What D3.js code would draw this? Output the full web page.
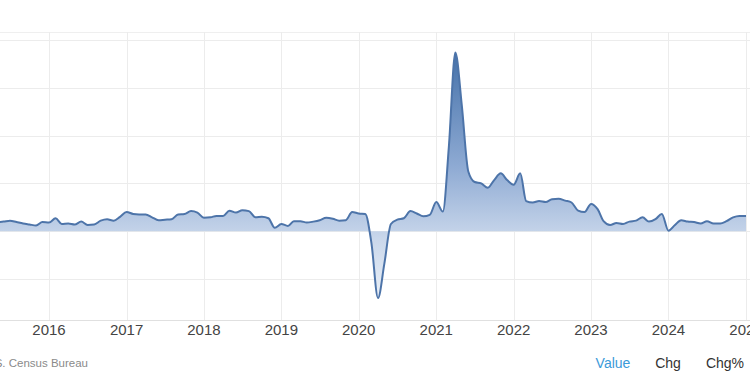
<!DOCTYPE html>
<html>
<head>
<meta charset="utf-8">
<script src="https://cdn.jsdelivr.net/npm/d3@7"></script>
<style>
  body { margin: 0; background: #fff; }
  svg { display: block; font-family: "Liberation Sans", Arial, sans-serif; }
</style>
</head>
<body>
<svg id="viz" width="750" height="375"></svg>
<script>
// monthly values, May 2015 .. Jan 2025 (one grid step = 10)
var firstMonth = new Date(2015, 4, 1);
var values = [
    1.9, 2.0, 2.2, 1.9, 1.6, 1.4, 1.2, 1.9,
    1.8, 2.7, 1.5, 1.6, 1.4, 2.0, 1.3, 1.4, 2.2, 2.5, 2.2, 3.0,
    4.0, 3.6, 3.5, 3.5, 2.9, 2.3, 2.4, 2.5, 3.5, 3.6, 4.2, 3.9,
    2.8, 2.9, 3.2, 3.2, 4.3, 3.9, 4.4, 4.2, 2.9, 3.0, 2.7, 0.7,
    1.5, 1.1, 2.1, 2.1, 1.8, 2.0, 2.3, 2.8, 2.6, 2.2, 2.3, 4.0,
    3.7, 3.6, -2.5, -14.0, -6.8, 1.5, 2.4, 2.7, 4.2, 3.7, 3.1, 3.4,
    6.1, 4.1, 17.5, 37.4, 26.5, 12.5, 10.3, 10.0, 9.1, 10.7, 12.1, 10.7,
    9.7, 12.1, 6.3, 6.0, 6.3, 6.1, 6.7, 6.8, 6.4, 6.0, 4.3, 4.0,
    5.7, 4.6, 2.1, 1.3, 1.7, 1.5, 2.0, 2.2, 2.9, 2.0, 2.5, 3.6,
    0.1, 1.3, 2.3, 2.0, 1.9, 1.6, 2.1, 1.6, 1.6, 2.1, 2.9, 3.2,
    3.2
];
var yearTicks = [2016, 2017, 2018, 2019, 2020, 2021, 2022, 2023, 2024, 2025];
var gridValues = [-10, 0, 10, 20, 30, 40];
var sourceText = "U.S. Census Bureau";
var buttons = ["Value", "Chg", "Chg%"];

var data = values.map(function(v, i) {
    return {date: d3.timeMonth.offset(firstMonth, i), value: v};
});

var svg = d3.select("#viz");
var plotTop = 32, plotBottom = 320;

var x = d3.scaleTime()
    .domain([new Date(2016, 0, 1), new Date(2025, 0, 1)])
    .range([49, 746]);
var y = d3.scaleLinear()
    .domain([-18.6, 41.7])
    .range([plotBottom, plotTop]);

var defs = svg.append("defs");
var grad = defs.append("linearGradient")
    .attr("id", "fillGrad")
    .attr("gradientUnits", "userSpaceOnUse")
    .attr("x1", 0).attr("x2", 0)
    .attr("y1", y(37)).attr("y2", y(-15));
grad.append("stop").attr("offset", 0).attr("stop-color", "#4672aa");
grad.append("stop").attr("offset", 0.45).attr("stop-color", "#8eaad3");
grad.append("stop").attr("offset", 0.74).attr("stop-color", "#c9d7eb");
grad.append("stop").attr("offset", 1).attr("stop-color", "#edf2f8");

defs.append("clipPath").attr("id", "plotClip")
    .append("rect").attr("x", 0).attr("y", plotTop).attr("width", 750).attr("height", plotBottom - plotTop);

// grid
svg.append("line")
    .attr("x1", 0).attr("x2", 750).attr("y1", plotTop + 0.5).attr("y2", plotTop + 0.5)
    .attr("stroke", "#efefef");
svg.append("g").selectAll("line")
    .data(gridValues)
    .enter().append("line")
    .attr("x1", 0).attr("x2", 750)
    .attr("y1", function(d) { return Math.round(y(d)) + 0.5; })
    .attr("y2", function(d) { return Math.round(y(d)) + 0.5; })
    .attr("stroke", "#ececec");
svg.append("g").selectAll("line")
    .data(yearTicks)
    .enter().append("line")
    .attr("x1", function(d) { return Math.round(x(new Date(d, 0, 1))) + 0.5; })
    .attr("x2", function(d) { return Math.round(x(new Date(d, 0, 1))) + 0.5; })
    .attr("y1", plotTop).attr("y2", plotBottom)
    .attr("stroke", "#ececec");
svg.append("line")
    .attr("x1", 0).attr("x2", 750).attr("y1", plotBottom + 0.5).attr("y2", plotBottom + 0.5)
    .attr("stroke", "#e0e0e0");

var plot = svg.append("g").attr("clip-path", "url(#plotClip)");

var area = d3.area()
    .x(function(d) { return x(d.date); })
    .y0(y(0))
    .y1(function(d) { return y(d.value); })
    .curve(d3.curveMonotoneX);
var line = d3.line()
    .x(function(d) { return x(d.date); })
    .y(function(d) { return y(d.value); })
    .curve(d3.curveMonotoneX);

plot.append("path")
    .datum(data)
    .attr("d", area)
    .attr("fill", "url(#fillGrad)");
plot.append("path")
    .datum(data)
    .attr("d", line)
    .attr("fill", "none")
    .attr("stroke", "#4d74a9")
    .attr("stroke-width", 2)
    .attr("stroke-linejoin", "round");

// x axis labels
svg.append("g").selectAll("text")
    .data(yearTicks)
    .enter().append("text")
    .attr("x", function(d) { return x(new Date(d, 0, 1)); })
    .attr("y", 335)
    .attr("text-anchor", "middle")
    .attr("font-size", 15)
    .attr("fill", "#444")
    .text(function(d) { return d; });

// footer
svg.append("text")
    .attr("x", 88).attr("y", 367)
    .attr("text-anchor", "end")
    .attr("font-size", 11.5)
    .attr("fill", "#8a8a8a")
    .text(sourceText);

var btnX = [613, 668, 725];
svg.append("g").selectAll("text")
    .data(buttons)
    .enter().append("text")
    .attr("x", function(d, i) { return btnX[i]; })
    .attr("y", 368)
    .attr("text-anchor", "middle")
    .attr("font-size", 14)
    .attr("fill", function(d, i) { return i == 0 ? "#3b9ad9" : "#333"; })
    .text(function(d) { return d; });
</script>
</body>
</html>
